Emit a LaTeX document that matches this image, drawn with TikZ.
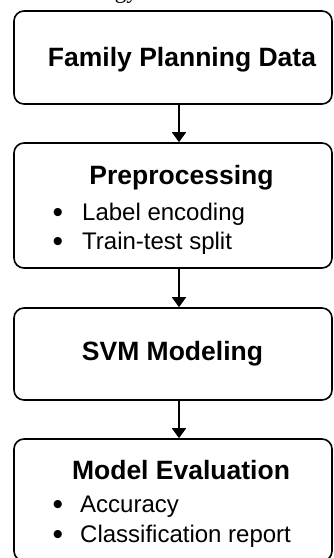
\documentclass[tikz,border=0pt]{standalone}
\usepackage{fontspec}
\setmainfont{Liberation Sans}
\newfontfamily\titleserif{Liberation Serif}
\usetikzlibrary{arrows.meta}
\tikzset{
  stagebox/.style={draw=black, line width=1.6pt, rounded corners=10pt, inner sep=0pt},
  titletext/.style={inner sep=0pt, anchor=base, font=\fontsize{26.5}{30}\selectfont\bfseries},
  itemtext/.style={inner sep=0pt, anchor=base west, font=\fontsize{24}{28}\selectfont},
  bullettext/.style={inner sep=0pt, anchor=base, font=\fontsize{30}{32}\selectfont},
  flowarrow/.style={line width=1.5pt, -{Triangle[width=14pt,length=10pt]}}
}
\begin{document}
\begin{tikzpicture}[x=1pt,y=-1pt]
\useasboundingbox (0,0) rectangle (333,558);
\clip (0,0) rectangle (333,558);
\fill[white] (0,0) rectangle (333,558);
% partially visible heading
\node[inner sep=0pt, anchor=base east, font=\titleserif\fontsize{23}{26}\selectfont] (heading) at (138,-1.5) {Methodology};
% boxes
\node[stagebox, minimum width=318pt, minimum height=93pt] (b1) at (173,57.5) {};
\node[stagebox, minimum width=318pt, minimum height=125pt] (b2) at (173,205.5) {};
\node[stagebox, minimum width=318pt, minimum height=92pt] (b3) at (173,354) {};
\node[stagebox, minimum width=318pt, minimum height=122pt] (b4) at (173,500) {};
% texts
\node[titletext] (t1) at (182,66.5) {Family Planning Data};
\node[titletext] (t2) at (181.5,184) {Preprocessing};
\node[bullettext] (p1b) at (58,222.5) {\textbullet};
\node[itemtext] (p1) at (82,220.5) {Label encoding};
\node[bullettext] (p2b) at (58,251) {\textbullet};
\node[itemtext] (p2) at (82,249) {Train-test split};
\node[titletext] (t3) at (172.5,360.5) {SVM Modeling};
\node[titletext] (t4) at (181,479.5) {Model Evaluation};
\node[bullettext] (e1b) at (58,514.5) {\textbullet};
\node[itemtext] (e1) at (80,512.5) {Accuracy};
\node[bullettext] (e2b) at (58,544.5) {\textbullet};
\node[itemtext] (e2) at (80,542.5) {Classification report};
% arrows
\coordinate (ax) at (179,0);
\draw[flowarrow] (b1.south -| ax) -- (b2.north -| ax);
\draw[flowarrow] (b2.south -| ax) -- (b3.north -| ax);
\draw[flowarrow] (b3.south -| ax) -- (b4.north -| ax);
\end{tikzpicture}
\end{document}
